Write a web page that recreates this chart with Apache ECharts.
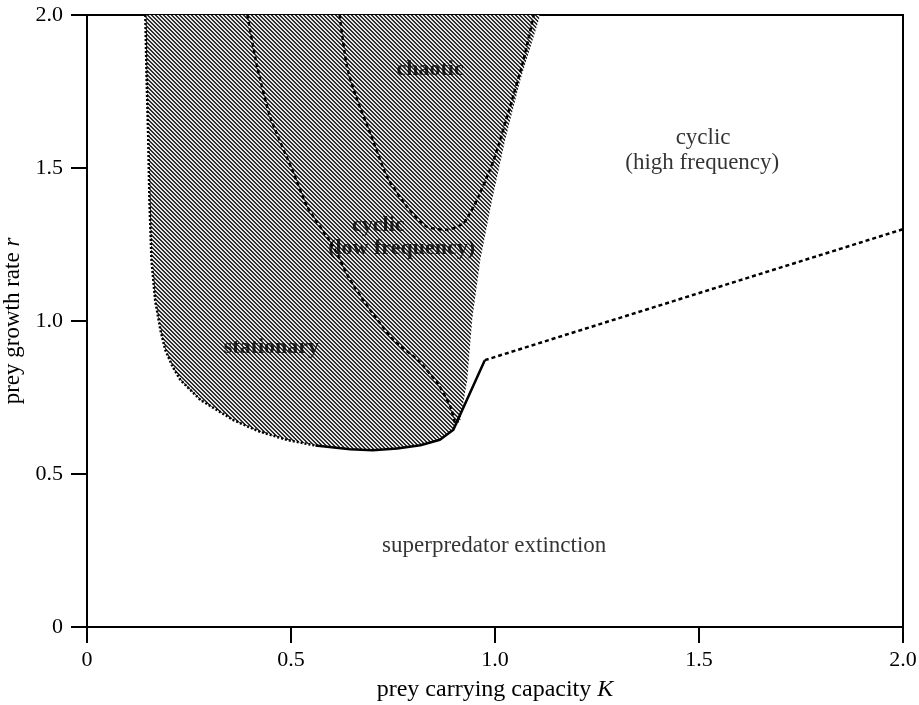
<!DOCTYPE html>
<html>
<head>
<meta charset="utf-8">
<script src="https://cdn.jsdelivr.net/npm/echarts@6/dist/echarts.min.js"></script>
<style>
html,body{margin:0;padding:0;background:#fff;}
#chart{width:919px;height:705px;}
</style>
</head>
<body>
<div id="chart"></div>
<script>
// ---- data (K, r) ----
var xTickLabels = ['0', '0.5', '1.0', '1.5', '2.0'];
var yTickLabels = ['0', '0.5', '1.0', '1.5', '2.0'];

// left / lower boundary of the shaded region (dotted part)
var leftBoundary = [[0.143,2.0],[0.146,1.8],[0.150,1.6],[0.153,1.395],[0.158,1.2],[0.167,1.068],
  [0.180,0.97],[0.192,0.905],[0.210,0.85],[0.229,0.807],[0.278,0.742],[0.359,0.676],
  [0.42,0.64],[0.491,0.611],[0.56,0.593]];
// lower boundary, solid part, up to the corner and the solid rising segment
var bottomSolid = [[0.56,0.593],[0.645,0.581],[0.70,0.578],[0.76,0.583],[0.817,0.594],
  [0.865,0.612],[0.898,0.645],[0.975,0.872]];
// dashed boundary to the right
var dashedRight = [[0.975,0.872],[2.0,1.30]];
// right edge of the shaded region (no line)
var rightEdge = [[0.898,0.645],[0.915,0.676],[0.932,0.807],[0.944,1.003],[0.964,1.200],
  [0.993,1.396],[1.025,1.592],[1.062,1.787],[1.111,2.0]];
// stationary / cyclic(low) boundary
var curveStationary = [[0.393,2.0],[0.417,1.831],[0.449,1.667],[0.506,1.484],[0.540,1.373],
  [0.604,1.242],[0.645,1.134],[0.694,1.036],[0.751,0.938],[0.810,0.873],[0.859,0.797],
  [0.891,0.719],[0.903,0.660]];
// chaotic boundary (U shape)
var curveChaotic = [[0.619,2.0],[0.637,1.832],[0.662,1.723],[0.694,1.614],[0.735,1.472],
  [0.784,1.374],[0.833,1.308],[0.882,1.298],[0.923,1.320],[0.956,1.396],[0.997,1.527],
  [1.037,1.701],[1.070,1.854],[1.095,2.0]];

// region labels
var innerLabelTexts = ['chaotic', 'cyclic', '(low frequency)', 'stationary'];
var innerLabelK = [0.841, 0.714, 0.771, 0.452];
var innerLabelR = [1.821, 1.314, 1.238, 0.915];
var outerLabelTexts = ['cyclic', '(high frequency)', 'superpredator extinction'];
var outerLabelK = [1.510, 1.508, 0.998];
var outerLabelR = [1.598, 1.516, 0.264];

// ---- build ----
var regionPolygon = leftBoundary.concat(bottomSolid.slice(1, bottomSolid.length - 1)).concat(rightEdge.slice(1));

function makePattern() {
  var c = document.createElement('canvas');
  c.width = 4; c.height = 4;
  var ctx = c.getContext('2d');
  ctx.fillStyle = '#e6e6e6';
  ctx.fillRect(0, 0, 4, 4);
  ctx.fillStyle = '#2e2e2e';
  for (var x = 0; x < 4; x++) {
    for (var y = 0; y < 4; y++) {
      if (((x - y) % 4 + 4) % 4 < 2) ctx.fillRect(x, y, 1, 1);
    }
  }
  return c;
}
var pattern = { image: makePattern(), repeat: 'repeat' };

var FONT = '"Liberation Serif", "Times New Roman", serif';

function labelData(texts, ks, rs) {
  return texts.map(function (t, i) { return { name: t, value: [ks[i], rs[i]] }; });
}

var chart = echarts.init(document.getElementById('chart'), null, { renderer: 'canvas' });
chart.setOption({
  animation: false,
  backgroundColor: '#fff',
  grid: {
    left: 87, right: 16, top: 15, bottom: 78,
    containLabel: false, outerBoundsMode: 'none',
    show: true, borderColor: '#000', borderWidth: 2, backgroundColor: 'transparent'
  },
  xAxis: {
    type: 'value', min: 0, max: 2, interval: 0.5,
    name: 'prey carrying capacity {i|K}',
    nameLocation: 'middle', nameGap: 51,
    nameTextStyle: { fontFamily: FONT, fontSize: 24, color: '#000',
      rich: { i: { fontFamily: FONT, fontSize: 24, fontStyle: 'italic', color: '#000' } } },
    axisLine: { show: true, onZero: false, lineStyle: { color: '#000', width: 2 } },
    axisTick: { show: true, inside: false, length: 16, lineStyle: { color: '#000', width: 2 } },
    axisLabel: { margin: 22, fontFamily: FONT, fontSize: 22, color: '#000',
      formatter: function (v) { return xTickLabels[Math.round(v / 0.5)]; } },
    splitLine: { show: false }
  },
  yAxis: {
    type: 'value', min: 0, max: 2, interval: 0.5,
    name: 'prey growth rate {i|r}',
    nameLocation: 'middle', nameGap: 50,
    nameTextStyle: { fontFamily: FONT, fontSize: 23, color: '#000',
      rich: { i: { fontFamily: FONT, fontSize: 23, fontStyle: 'italic', color: '#000' } } },
    axisLine: { show: true, onZero: false, lineStyle: { color: '#000', width: 2 } },
    axisTick: { show: true, inside: false, length: 16, lineStyle: { color: '#000', width: 2 } },
    axisLabel: { margin: 24, fontFamily: FONT, fontSize: 22, color: '#000',
      formatter: function (v) { return yTickLabels[Math.round(v / 0.5)]; } },
    splitLine: { show: false }
  },
  series: [
    {
      type: 'custom',
      silent: true,
      z: 1,
      data: [0],
      renderItem: function (params, api) {
        var pts = regionPolygon.map(function (p) { return api.coord(p); });
        return {
          type: 'polygon',
          shape: { points: pts },
          style: { fill: pattern, stroke: null }
        };
      }
    },
    {
      type: 'line', data: leftBoundary, showSymbol: false, symbol: 'none', z: 3,
      lineStyle: { color: '#000', width: 2.5, type: [2, 2] }
    },
    {
      type: 'line', data: bottomSolid, showSymbol: false, symbol: 'none', z: 3,
      lineStyle: { color: '#000', width: 2.5, type: 'solid' }
    },
    {
      type: 'line', data: dashedRight, showSymbol: false, symbol: 'none', z: 3,
      lineStyle: { color: '#000', width: 2.5, type: [4, 3] }
    },
    {
      type: 'line', data: curveStationary, showSymbol: false, symbol: 'none', z: 3, smooth: 0.2,
      lineStyle: { color: '#000', width: 2.5, type: [4, 3] }
    },
    {
      type: 'line', data: curveChaotic, showSymbol: false, symbol: 'none', z: 3, smooth: 0.2,
      lineStyle: { color: '#000', width: 2.5, type: [4, 3] }
    },
    {
      type: 'scatter', symbolSize: 0, silent: true, z: 5,
      data: labelData(innerLabelTexts, innerLabelK, innerLabelR),
      label: { show: true, position: 'inside', formatter: '{b}', color: '#000',
        fontFamily: FONT, fontSize: 22, fontWeight: 'bold' }
    },
    {
      type: 'scatter', symbolSize: 0, silent: true, z: 5,
      data: labelData(outerLabelTexts, outerLabelK, outerLabelR),
      label: { show: true, position: 'inside', formatter: '{b}', color: '#000',
        fontFamily: FONT, fontSize: 23 }
    }
  ]
});
</script>
</body>
</html>
